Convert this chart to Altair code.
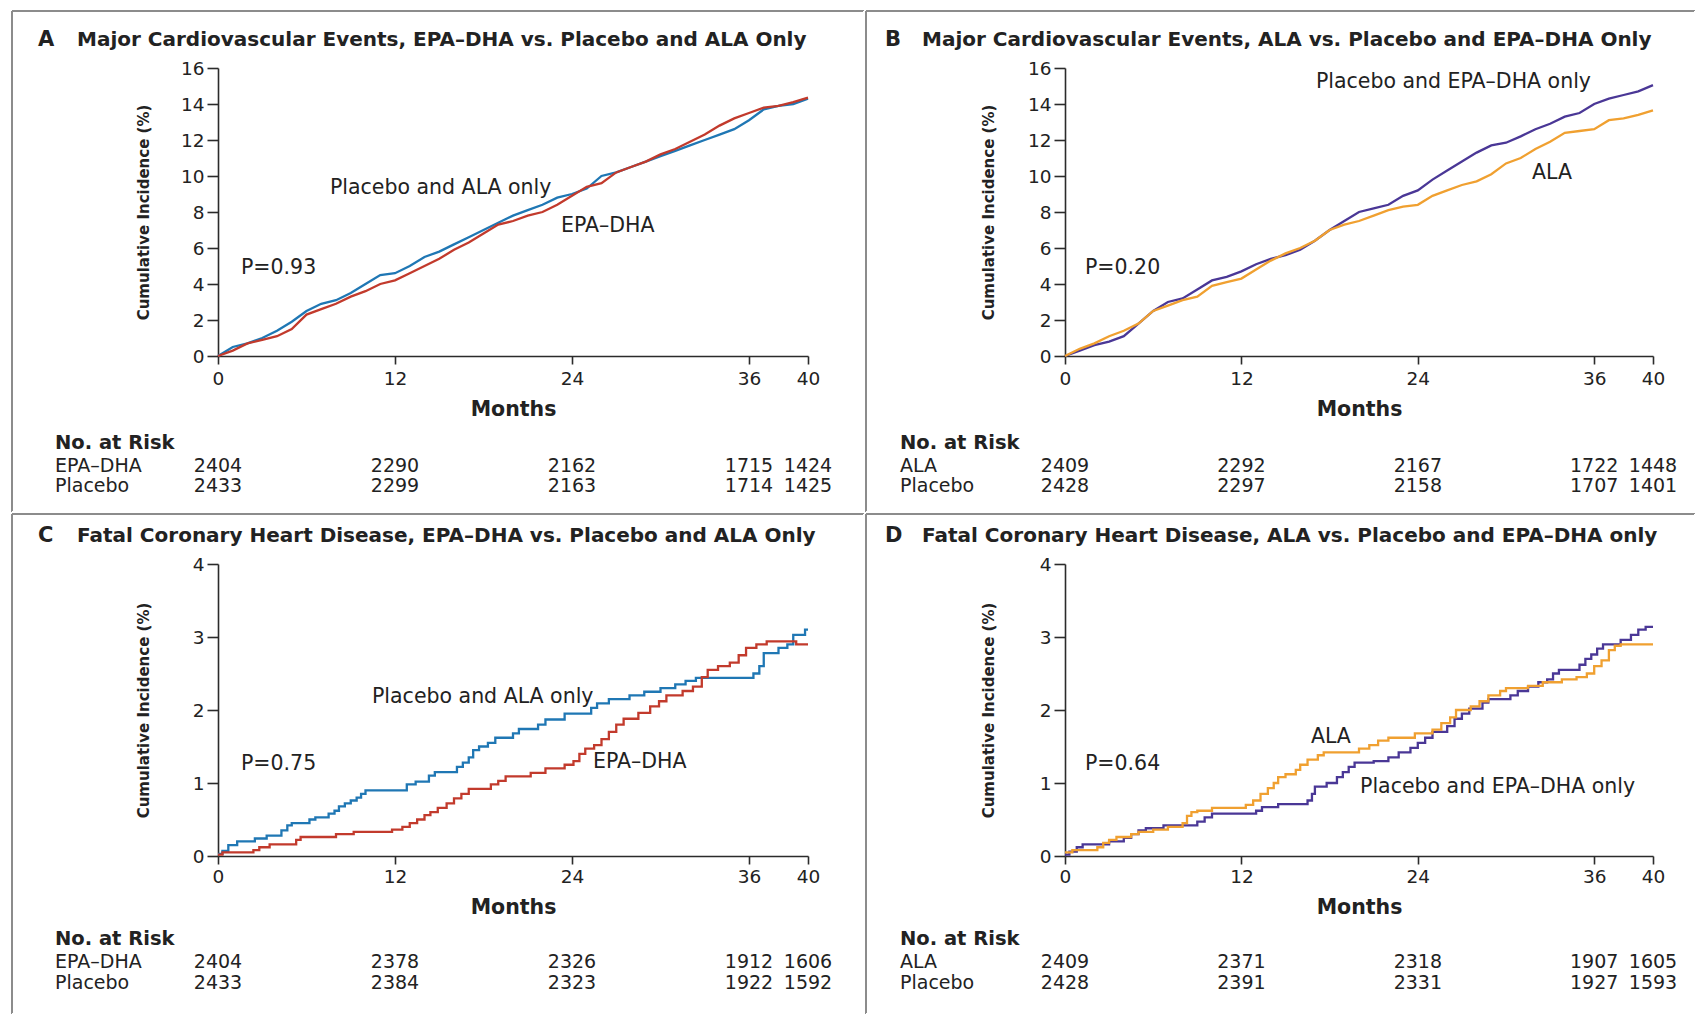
import altair as alt
import pandas as pd

FONT = "DejaVu Sans"
INK = "#222222"
AXIS_COLOR = "#2b2b2b"
FRAME_COLOR = "#8c8c8c"
BLUE = "#1f77b4"
RED = "#c23a2c"
PURPLE = "#4a3796"
ORANGE = "#f0a030"

MONTH_TICKS = [0, 12, 24, 36, 40]
RISK_MONTHS = [0, 12, 24, 36, 40]

# ---------------- Panel A ----------------
A_MONTHS = list(range(0, 41))
A_PLACEBO_ALA = [0.0, 0.5, 0.7, 1.0, 1.4, 1.9, 2.5, 2.9, 3.1, 3.5, 4.0, 4.5, 4.6, 5.0, 5.5, 5.8,
                 6.2, 6.6, 7.0, 7.4, 7.8, 8.1, 8.4, 8.8, 9.0, 9.3, 10.0, 10.2, 10.5, 10.8, 11.1,
                 11.4, 11.7, 12.0, 12.3, 12.6, 13.1, 13.7, 13.9, 14.0, 14.3]
A_EPA_DHA = [0.0, 0.3, 0.7, 0.9, 1.1, 1.5, 2.3, 2.6, 2.9, 3.3, 3.6, 4.0, 4.2, 4.6, 5.0, 5.4,
             5.9, 6.3, 6.8, 7.3, 7.5, 7.8, 8.0, 8.4, 8.9, 9.4, 9.6, 10.2, 10.5, 10.8, 11.2,
             11.5, 11.9, 12.3, 12.8, 13.2, 13.5, 13.8, 13.9, 14.1, 14.35]
A_RISK_EPA = [2404, 2290, 2162, 1715, 1424]
A_RISK_PLACEBO = [2433, 2299, 2163, 1714, 1425]

# ---------------- Panel B ----------------
B_MONTHS = list(range(0, 41))
B_PLACEBO_EPA = [0.0, 0.3, 0.6, 0.8, 1.1, 1.8, 2.5, 3.0, 3.2, 3.7, 4.2, 4.4, 4.7, 5.1, 5.4, 5.6,
                 5.9, 6.4, 7.0, 7.5, 8.0, 8.2, 8.4, 8.9, 9.2, 9.8, 10.3, 10.8, 11.3, 11.7, 11.85,
                 12.2, 12.6, 12.9, 13.3, 13.5, 14.0, 14.3, 14.5, 14.7, 15.05]
B_ALA = [0.0, 0.4, 0.7, 1.1, 1.4, 1.8, 2.5, 2.8, 3.1, 3.3, 3.9, 4.1, 4.3, 4.8, 5.3, 5.7,
         6.0, 6.4, 7.0, 7.3, 7.5, 7.8, 8.1, 8.3, 8.4, 8.9, 9.2, 9.5, 9.7, 10.1, 10.7,
         11.0, 11.5, 11.9, 12.4, 12.5, 12.6, 13.1, 13.2, 13.4, 13.65]
B_RISK_ALA = [2409, 2292, 2167, 1722, 1448]
B_RISK_PLACEBO = [2428, 2297, 2158, 1707, 1401]

# ---------------- Panel C ----------------
C_PLACEBO_M = [0, 0.3, 0.7, 1.3, 2.5, 3.3, 4.3, 4.7, 5.0, 6.2, 6.6, 7.5, 7.9, 8.2, 8.6, 9.0, 9.4,
               9.7, 10.0, 12.8, 13.4, 14.3, 14.7, 16.2, 16.6, 17.0, 17.3, 17.7, 18.3, 18.8, 20.0,
               20.4, 21.7, 22.2, 23.5, 25.3, 25.7, 26.5, 27.9, 28.9, 30.0, 31.0, 31.7, 32.4, 36.3,
               36.7, 37.0, 38.0, 38.6, 39.0, 39.8, 40.0]
C_PLACEBO_V = [0.03, 0.07, 0.15, 0.2, 0.24, 0.28, 0.35, 0.42, 0.45, 0.5, 0.53, 0.58, 0.62, 0.68,
               0.72, 0.76, 0.80, 0.85, 0.90, 0.98, 1.02, 1.1, 1.15, 1.22, 1.28, 1.35, 1.45, 1.5,
               1.55, 1.62, 1.68, 1.74, 1.8, 1.87, 1.95, 2.03, 2.09, 2.15, 2.2, 2.25, 2.3, 2.35,
               2.4, 2.44, 2.5, 2.6, 2.78, 2.85, 2.9, 3.03, 3.1, 3.1]
C_EPA_M = [0, 0.3, 2.4, 2.8, 3.5, 5.3, 5.6, 8.0, 9.2, 11.8, 12.5, 13.0, 13.5, 14.0, 14.4, 14.9,
           15.5, 16.0, 16.5, 17.0, 18.5, 19.0, 19.5, 21.2, 22.2, 23.5, 24.1, 24.5, 24.9, 25.5,
           26.0, 26.5, 27.0, 27.5, 28.5, 29.3, 29.9, 30.4, 31.5, 32.2, 32.8, 33.2, 33.9, 34.7,
           35.3, 35.8, 36.5, 37.2, 39.2, 40.0]
C_EPA_V = [0.02, 0.05, 0.08, 0.12, 0.16, 0.22, 0.26, 0.3, 0.33, 0.36, 0.4, 0.45, 0.5, 0.56, 0.6,
           0.66, 0.72, 0.79, 0.85, 0.92, 0.98, 1.03, 1.09, 1.14, 1.2, 1.25, 1.3, 1.4, 1.47, 1.52,
           1.6, 1.7, 1.8, 1.88, 1.96, 2.05, 2.12, 2.2, 2.26, 2.32, 2.45, 2.55, 2.6, 2.65, 2.75,
           2.85, 2.9, 2.94, 2.9, 2.9]
C_RISK_EPA = [2404, 2378, 2326, 1912, 1606]
C_RISK_PLACEBO = [2433, 2384, 2323, 1922, 1592]

# ---------------- Panel D ----------------
D_PLACEBO_M = [0, 0.3, 0.8, 1.2, 3.0, 4.0, 4.5, 5.0, 5.5, 6.7, 9.0, 9.5, 10.0, 13.0, 13.4, 14.5,
               16.5, 16.8, 17.0, 17.8, 18.5, 18.9, 19.3, 19.7, 21.0, 22.0, 22.7, 23.5, 24.0, 24.5,
               25.0, 26.0, 26.5, 27.0, 27.5, 28.4, 28.8, 30.3, 30.8, 31.5, 32.2, 32.8, 33.2, 33.6,
               35.0, 35.4, 35.8, 36.2, 36.6, 37.8, 38.5, 39.0, 39.5, 40.0]
D_PLACEBO_V = [0.02, 0.06, 0.12, 0.16, 0.2, 0.25, 0.3, 0.35, 0.38, 0.42, 0.47, 0.53, 0.58, 0.62,
               0.67, 0.71, 0.76, 0.85, 0.95, 1.0, 1.08, 1.15, 1.22, 1.28, 1.3, 1.35, 1.42, 1.48,
               1.55, 1.62, 1.7, 1.78, 1.88, 1.95, 2.02, 2.1, 2.15, 2.2, 2.26, 2.32, 2.38, 2.42,
               2.5, 2.55, 2.62, 2.7, 2.76, 2.84, 2.9, 2.96, 3.03, 3.1, 3.14, 3.14]
D_ALA_M = [0, 0.5, 2.2, 2.6, 3.0, 3.5, 4.5, 5.0, 6.0, 7.0, 8.0, 8.3, 8.6, 9.0, 10.0, 12.3, 12.8,
           13.3, 13.8, 14.2, 14.5, 15.0, 15.7, 16.0, 16.5, 17.2, 17.6, 20.0, 20.7, 21.3, 22.0,
           23.8, 25.0, 25.6, 26.2, 26.6, 27.6, 28.2, 28.8, 29.6, 30.0, 31.5, 32.5, 33.8, 34.8,
           35.5, 36.0, 36.5, 37.0, 37.4, 37.8, 40.0]
D_ALA_V = [0.05, 0.08, 0.12, 0.18, 0.22, 0.26, 0.3, 0.33, 0.36, 0.4, 0.45, 0.55, 0.6, 0.62, 0.66,
           0.7, 0.76, 0.85, 0.93, 1.0, 1.08, 1.12, 1.18, 1.25, 1.32, 1.38, 1.42, 1.47, 1.52, 1.58,
           1.62, 1.68, 1.73, 1.82, 1.9, 2.0, 2.05, 2.12, 2.2, 2.26, 2.3, 2.33, 2.38, 2.42, 2.45,
           2.5, 2.6, 2.68, 2.82, 2.88, 2.9, 2.9]
D_RISK_ALA = [2409, 2371, 2318, 1907, 1605]
D_RISK_PLACEBO = [2428, 2391, 2331, 1927, 1593]

ONE = pd.DataFrame({"k": [0]})


def label(text, px, py, size, weight="normal", align="left"):
    return alt.Chart(ONE).mark_text(
        text=text, font=FONT, fontSize=size, fontWeight=weight, align=align,
        baseline="middle", color=INK
    ).encode(x=alt.value(px), y=alt.value(py))


def hrule(x1, x2, py, color):
    return alt.Chart(ONE).mark_rule(color=color, strokeWidth=2).encode(
        x=alt.value(x1), x2=alt.value(x2), y=alt.value(py))


def vrule(px, y1, y2, color):
    return alt.Chart(ONE).mark_rule(color=color, strokeWidth=2).encode(
        x=alt.value(px), y=alt.value(y1), y2=alt.value(y2))


def panel(letter, title, series, interp, notes, risk_names, risk_counts,
          W, H, ymax, yvals, frame, title_y, title_x, risk_x, risk_ys,
          ytitle_x, xlab_pad, months_y):
    rows = []
    for order, (name, ms, vs, col) in enumerate(series):
        for m, v in zip(ms, vs):
            rows.append({"month": m, "value": v, "series": name, "col": col, "ord": order})
    df = pd.DataFrame(rows)

    x = alt.X("month:Q", scale=alt.Scale(domain=[0, 40], nice=False, zero=False),
              axis=alt.Axis(values=MONTH_TICKS, title="Months", grid=False, tickSize=8,
                            labelPadding=xlab_pad, labelBaseline="middle", labelFontSize=18.5,
                            labelFlush=False, titleX=W / 2, titleY=months_y,
                            titleBaseline="middle", titleAlign="center", titleFontSize=20.5,
                            titleFontWeight="bold"))
    y = alt.Y("value:Q", scale=alt.Scale(domain=[0, ymax], nice=False, zero=True),
              axis=alt.Axis(values=yvals, title="Cumulative Incidence (%)", grid=False,
                            tickSize=11, labelPadding=3, labelFontSize=18.5, titleX=ytitle_x,
                            titleY=H / 2, titleAngle=270, titleAlign="center",
                            titleBaseline="middle", titleFontSize=15, titleFontWeight="bold"))

    lines = alt.Chart(df).mark_line(interpolate=interp, strokeWidth=2.3).encode(
        x=x, y=y,
        color=alt.Color("col:N", scale=None, legend=None),
        detail="series:N")

    ndf = pd.DataFrame({"month": [n[0] for n in notes], "value": [n[1] for n in notes],
                        "label": [n[2] for n in notes]})
    note_layer = alt.Chart(ndf).mark_text(
        align="left", baseline="middle", font=FONT, fontSize=20.5, color=INK
    ).encode(x=x, y=y, text="label:N")

    L, T, R, B = frame
    layers = [
        hrule(L, R, T, FRAME_COLOR), vrule(L, T, B, FRAME_COLOR),
        vrule(R, T, B, "#ffffff"), hrule(L, R, B, "#ffffff"),
        lines, note_layer,
        label(letter, title_x[0], title_y, 21, "bold"),
        label(title, title_x[1], title_y, 20, "bold"),
        label("No. at Risk", risk_x, risk_ys[0], 19.5, "bold"),
    ]
    for i, (nm, counts) in enumerate(zip(risk_names, risk_counts)):
        layers.append(label(nm, risk_x, risk_ys[i + 1], 19))
        rdf = pd.DataFrame({"month": RISK_MONTHS, "n": counts})
        layers.append(alt.Chart(rdf).mark_text(
            font=FONT, fontSize=19, align="center", baseline="middle", color=INK
        ).encode(x=x, y=alt.value(risk_ys[i + 1]), text=alt.Text("n:Q", format="d")))
    return alt.layer(*layers).properties(width=W, height=H)


chart_a = panel(
    "A", "Major Cardiovascular Events, EPA\u2013DHA vs. Placebo and ALA Only",
    [("Placebo and ALA only", A_MONTHS, A_PLACEBO_ALA, BLUE),
     ("EPA\u2013DHA", A_MONTHS, A_EPA_DHA, RED)],
    "linear",
    [(1.56, 4.89, "P=0.93"), (7.59, 9.33, "Placebo and ALA only"), (23.25, 7.22, "EPA\u2013DHA")],
    ["EPA\u2013DHA", "Placebo"], [A_RISK_EPA, A_RISK_PLACEBO],
    590, 288, 16, [0, 2, 4, 6, 8, 10, 12, 14, 16], (-206, -57, 646, 444), -28, (-180, -141),
    -163, (375, 398, 418), -75, 14, 53)

chart_b = panel(
    "B", "Major Cardiovascular Events, ALA vs. Placebo and EPA\u2013DHA Only",
    [("Placebo and EPA\u2013DHA only", B_MONTHS, B_PLACEBO_EPA, PURPLE),
     ("ALA", B_MONTHS, B_ALA, ORANGE)],
    "linear",
    [(1.36, 4.89, "P=0.20"), (17.07, 15.22, "Placebo and EPA\u2013DHA only"), (31.77, 10.17, "ALA")],
    ["ALA", "Placebo"], [B_RISK_ALA, B_RISK_PLACEBO],
    588, 288, 16, [0, 2, 4, 6, 8, 10, 12, 14, 16], (-199, -57, 630, 444), -28, (-180, -143),
    -165, (375, 398, 418), -77, 14, 53)

chart_c = panel(
    "C", "Fatal Coronary Heart Disease, EPA\u2013DHA vs. Placebo and ALA Only",
    [("Placebo and ALA only", C_PLACEBO_M, C_PLACEBO_V, BLUE),
     ("EPA\u2013DHA", C_EPA_M, C_EPA_V, RED)],
    "step-after",
    [(1.56, 1.26, "P=0.75"), (10.44, 2.18, "Placebo and ALA only"), (25.42, 1.29, "EPA\u2013DHA")],
    ["EPA\u2013DHA", "Placebo"], [C_RISK_EPA, C_RISK_PLACEBO],
    590, 292, 4, [0, 1, 2, 3, 4], (-206, -50, 646, 450), -28, (-180, -141),
    -163, (375, 398, 419), -75, 12, 51)

chart_d = panel(
    "D", "Fatal Coronary Heart Disease, ALA vs. Placebo and EPA\u2013DHA only",
    [("Placebo and EPA\u2013DHA only", D_PLACEBO_M, D_PLACEBO_V, PURPLE),
     ("ALA", D_ALA_M, D_ALA_V, ORANGE)],
    "step-after",
    [(1.36, 1.26, "P=0.64"), (16.73, 1.63, "ALA"), (20.07, 0.95, "Placebo and EPA\u2013DHA only")],
    ["ALA", "Placebo"], [D_RISK_ALA, D_RISK_PLACEBO],
    588, 292, 4, [0, 1, 2, 3, 4], (-199, -50, 630, 450), -28, (-180, -143),
    -165, (375, 398, 419), -77, 12, 51)

row1 = alt.hconcat(chart_a, chart_b, spacing=0)
row2 = alt.hconcat(chart_c, chart_d, spacing=0)

chart = alt.vconcat(row1, row2, spacing=0).properties(
    padding={"left": 11, "top": 10, "right": 0, "bottom": 0}
).configure_view(strokeWidth=0).configure_axis(
    domainColor=AXIS_COLOR, tickColor=AXIS_COLOR, labelColor=INK, titleColor=INK,
    domainWidth=1.6, tickWidth=1.6, labelFont=FONT, titleFont=FONT
)

chart.save("out.html", embed_options={"renderer": "svg", "actions": False})
